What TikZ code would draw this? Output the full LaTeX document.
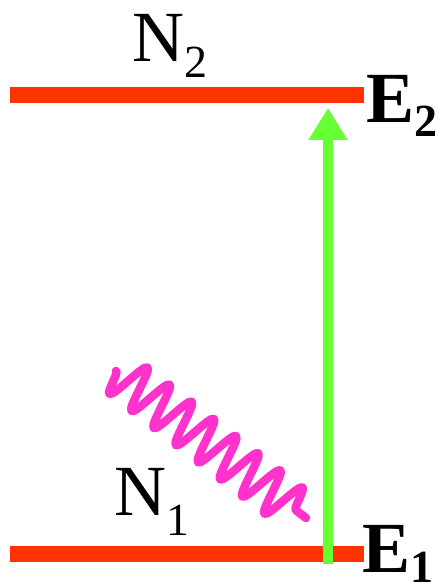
\documentclass[tikz,border=0pt]{standalone}
\usepackage{fontspec}
\setmainfont{Liberation Serif}
\usepackage{xcolor}
\definecolor{cLevel}{HTML}{FF3300}
\definecolor{cPump}{HTML}{66FF33}
\definecolor{cPhoton}{HTML}{FF33CC}
\usetikzlibrary{arrows.meta,decorations.pathmorphing}
\newcommand{\lvsub}[2]{\raisebox{-#1}{\fontsize{46}{46}\selectfont #2}}
\tikzset{
  level-line/.style={draw=cLevel,line width=16pt},
  arrow-pump/.style={-{Triangle[width=37pt,length=32pt]},draw=cPump,
    fill=cPump,line width=10pt},
  wave-photon/.style={draw=cPhoton,line width=8.5pt,line cap=round,
    line join=round,decorate,
    decoration={snake,segment length=28pt,amplitude=22pt,mirror}},
  label-pop/.style={anchor=base west,inner sep=0pt,
    font=\fontsize{72}{72}\selectfont},
  label-energy/.style={anchor=base west,inner sep=0pt,
    font=\fontsize{72}{72}\selectfont\bfseries},
}
\begin{document}
\begin{tikzpicture}[x=1pt,y=-1pt]
  \useasboundingbox (0,0) rectangle (437,588);
  % energy levels
  \coordinate (upL)  at (10,95.5);
  \coordinate (upR)  at (364,95.5);
  \coordinate (lowL) at (10,554);
  \coordinate (lowR) at (364,554);
  \draw[level-line] (upL) -- (upR);
  \draw[level-line] (lowL) -- (lowR);
  % pump and photon
  \coordinate (pumpS) at (328,564);
  \coordinate (pumpE) at (328,108);
  \draw[arrow-pump] (pumpS) -- (pumpE);
  \coordinate (waveS) at (116,371);
  \coordinate (waveE) at (306,518);
  \draw[wave-photon] (waveS) -- (waveE);
  % labels
  \node[label-pop] (nTwo) at (132,62) {N\lvsub{16pt}{2}};
  \node[label-pop] (nOne) at (114,515) {N\lvsub{20pt}{1}};
  \node[label-energy] (eTwo) at (366,123) {E\lvsub{14pt}{2}};
  \node[label-energy] (eOne) at (362,572) {E\lvsub{10pt}{1}};
\end{tikzpicture}
\end{document}
